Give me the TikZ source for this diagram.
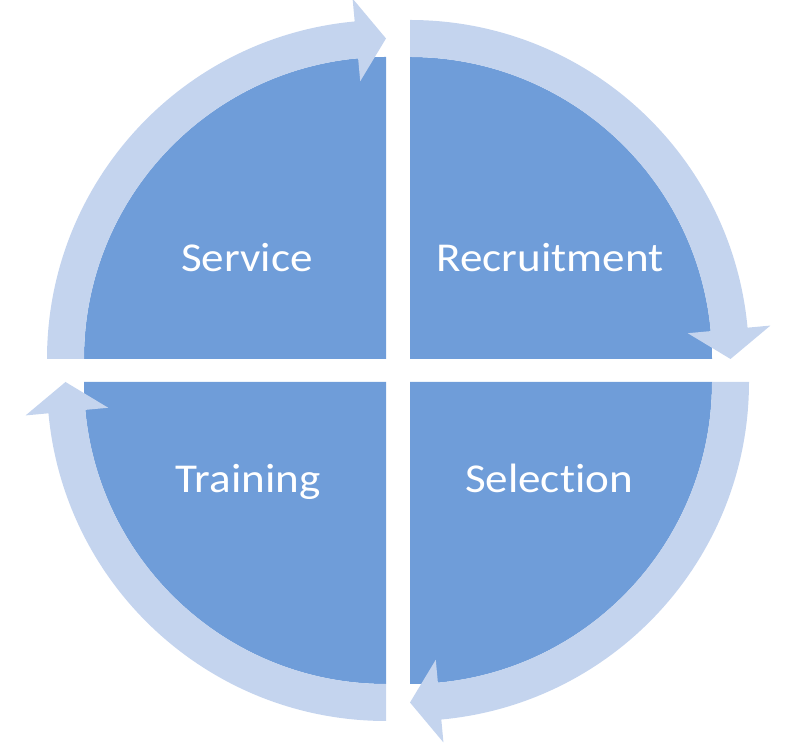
\documentclass[tikz,border=0pt]{standalone}
\usepackage{fontspec}
\setmainfont{Carlito}
\newfontfamily\labelfont[FakeStretch=1.1,Ligatures=NoCommon]{Carlito}
\usetikzlibrary{positioning}

\definecolor{segblue}{HTML}{6F9DD9}
\definecolor{bandblue}{HTML}{C4D4EE}

\begin{document}
\begin{tikzpicture}[x=1pt,y=1pt,
    seg/.style={fill=segblue},
    band/.style={fill=bandblue},
    label/.style={text=white,anchor=base,font=\labelfont\fontsize{41}{48}\selectfont}]
            \useasboundingbox (0,0) rectangle (806,746);

            % quarter pieces
            \fill[seg] (386,387) -- ++(180:302) arc[start angle=180,end angle=90,radius=302] -- cycle;
            \fill[seg] (410,387) -- ++(90:302) arc[start angle=90,end angle=0,radius=302] -- cycle;
            \fill[seg] (410,364) -- ++(0:302) arc[start angle=0,end angle=-90,radius=302] -- cycle;
            \fill[seg] (386,364) -- ++(-90:302) arc[start angle=-90,end angle=-180,radius=302] -- cycle;

            % arrows round the pieces
            \begin{scope}[shift={(386,387)}]
                \fill[band] (180:339) arc[start angle=180,end angle=95.3,radius=339] -- (95.3:362) -- (90:320.5) -- (95.3:279) -- (95.3:302) arc[start angle=95.3,end angle=180,radius=302] -- cycle;
            \end{scope}
            \begin{scope}[shift={(410,387)}]
                \fill[band] (90:339) arc[start angle=90,end angle=5.3,radius=339] -- (5.3:362) -- (0:320.5) -- (5.3:279) -- (5.3:302) arc[start angle=5.3,end angle=90,radius=302] -- cycle;
            \end{scope}
            \begin{scope}[shift={(410,364)}]
                \fill[band] (0:339) arc[start angle=0,end angle=-84.7,radius=339] -- (-84.7:362) -- (-90:320.5) -- (-84.7:279) -- (-84.7:302) arc[start angle=-84.7,end angle=0,radius=302] -- cycle;
            \end{scope}
            \begin{scope}[shift={(386,364)}]
                \fill[band] (-90:339) arc[start angle=-90,end angle=-174.7,radius=339] -- (-174.7:362) -- (-180:320.5) -- (-174.7:279) -- (-174.7:302) arc[start angle=-174.7,end angle=-90,radius=302] -- cycle;
            \end{scope}

            \node[label] (service) at (247,474) {Service};
            \node[label] (recruit) at (550,474) {Recruitment};
            \node[label] (select) at (549,253) {Selection};
            \node[label] (train) at (248,253) {Training};

\end{tikzpicture}
\end{document}
